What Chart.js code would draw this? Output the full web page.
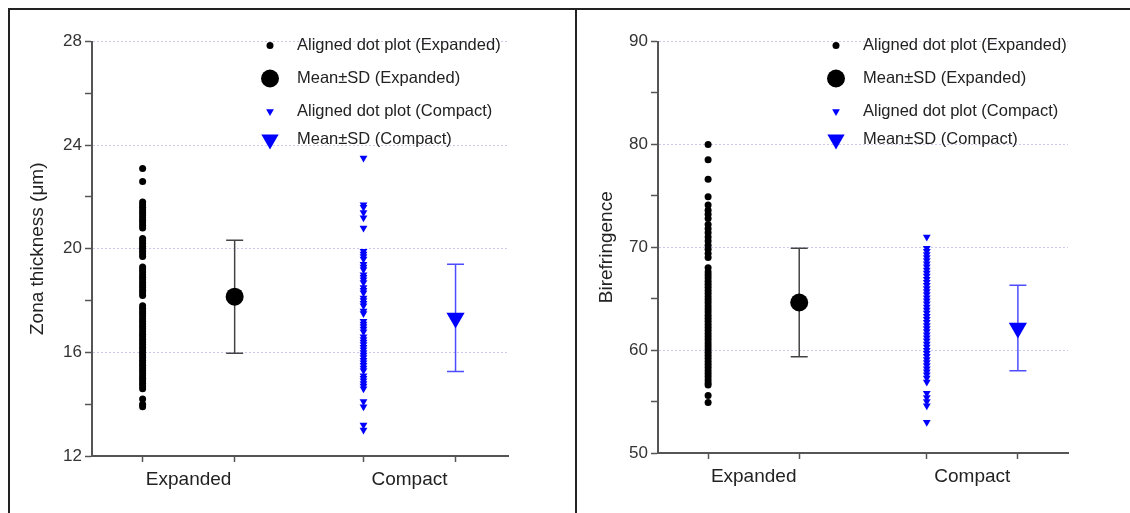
<!DOCTYPE html>
<html><head><meta charset="utf-8">
<script src="https://cdn.jsdelivr.net/npm/chart.js@4.4.1/dist/chart.umd.min.js"></script>
<style>
html,body{margin:0;padding:0;background:#fff;width:1130px;height:513px;overflow:hidden;position:relative;}
#p1{position:absolute;left:8px;top:8px;width:569px;height:530px;border-left:2px solid #222;border-top:2px solid #222;border-right:2px solid #222;box-sizing:border-box;}
#p2{position:absolute;left:575px;top:8px;width:600px;height:530px;border-left:2px solid #222;border-top:2px solid #222;box-sizing:border-box;}
#c1{position:absolute;left:0;top:0;}
#c2{position:absolute;left:577px;top:0;}
</style></head>
<body>
<div id="p1"></div><div id="p2"></div>
<canvas id="c1" width="575" height="513"></canvas>
<canvas id="c2" width="553" height="513"></canvas>
<script>
// ---- data ----
const categories = ['Expanded', 'Compact'];
const zonaExpanded = [23.1, 22.6, 21.8, 21.7, 21.6, 21.5, 21.4, 21.3, 21.2, 21.1, 21.0, 20.9, 20.8, 20.4, 20.3, 20.2, 20.1, 20.0, 19.9, 19.8, 19.7, 19.3, 19.2, 19.1, 19.0, 18.9, 18.8, 18.7, 18.6, 18.5, 18.4, 18.3, 18.2, 17.8, 17.7, 17.6, 17.5, 17.4, 17.3, 17.2, 17.1, 17.0, 16.9, 16.8, 16.7, 16.6, 16.5, 16.4, 16.3, 16.2, 16.1, 16.0, 15.9, 15.8, 15.7, 15.6, 15.5, 15.4, 15.3, 15.2, 15.1, 15.0, 14.9, 14.8, 14.7, 14.6, 14.2, 14.0, 13.9];
const zonaCompact = [23.5, 21.7, 21.6, 21.4, 21.2, 20.8, 19.9, 19.8, 19.7, 19.6, 19.4, 19.3, 19.2, 19.0, 18.9, 18.8, 18.7, 18.5, 18.4, 18.3, 18.1, 18.0, 17.9, 17.8, 17.6, 17.5, 17.2, 17.1, 17.0, 16.9, 16.8, 16.6, 16.5, 16.4, 16.3, 16.2, 16.1, 16.0, 15.9, 15.8, 15.7, 15.6, 15.5, 15.4, 15.3, 15.1, 15.0, 14.9, 14.8, 14.7, 14.6, 14.1, 13.9, 13.2, 13.0];
const zonaMean = [18.15, 17.33];
const zonaSD = [2.18, 2.07];
const birefExpanded = [80.0, 78.5, 76.6, 74.9, 74.1, 73.6, 73.2, 72.8, 72.2, 71.8, 71.4, 71.0, 70.6, 70.2, 69.8, 69.4, 69.0, 68.0, 67.6, 67.3, 67.0, 66.7, 66.4, 66.1, 65.8, 65.5, 65.2, 64.9, 64.6, 64.3, 64.0, 63.7, 63.4, 63.1, 62.8, 62.5, 62.2, 61.9, 61.6, 61.3, 61.0, 60.7, 60.4, 60.1, 59.8, 59.5, 59.2, 58.9, 58.6, 58.3, 58.0, 57.7, 57.4, 57.1, 56.8, 56.6, 55.6, 54.9];
const birefCompact = [71.0, 69.9, 69.6, 69.3, 69.0, 68.7, 68.4, 68.1, 67.8, 67.5, 67.2, 66.9, 66.6, 66.3, 66.0, 65.7, 65.4, 65.1, 64.8, 64.5, 64.2, 63.9, 63.6, 63.3, 63.0, 62.7, 62.4, 62.1, 61.8, 61.5, 61.2, 60.9, 60.6, 60.3, 60.0, 59.7, 59.4, 59.1, 58.8, 58.5, 58.2, 57.9, 57.6, 57.3, 56.9, 55.8, 55.4, 55.0, 54.6, 53.0];
const birefMean = [64.63, 62.15];
const birefSD = [5.27, 4.15];
const legendLabels = ['Aligned dot plot (Expanded)', 'Mean\u00B1SD (Expanded)', 'Aligned dot plot (Compact)', 'Mean\u00B1SD (Compact)'];
const zonaTicks = [12, 16, 20, 24, 28];
const birefTicks = [50, 60, 70, 80, 90];

// ---- layout helpers ----
const FONT = 'Arial, "Liberation Sans", sans-serif';
Chart.defaults.font.family = FONT;
const DOT_X = [0.55, 2.95];
const MEAN_X = [1.55, 3.95];
const LABEL_X = DOT_X.map((d, i) => (d + MEAN_X[i]) / 2);
const BLACK = '#000000', BLUE = '#0000ff';

const legendPlugin = {
  id: 'ownLegend',
  afterDraw(chart, args, opts) {
    const ctx = chart.ctx;
    const x0 = chart.chartArea.left + 178;
    const rows = [45.5, 78.5, 111.5, 139.5];
    const items = [
      {style: 'circle', r: 3.5, c: BLACK},
      {style: 'circle', r: 9, c: BLACK},
      {style: 'tri', r: 4.5, c: BLUE},
      {style: 'tri', r: 10, c: BLUE}
    ];
    ctx.save();
    items.forEach((it, i) => {
      const y = rows[i];
      ctx.fillStyle = it.c;
      ctx.beginPath();
      if (it.style === 'circle') {
        ctx.arc(x0, y, it.r, 0, Math.PI * 2);
      } else {
        ctx.moveTo(x0, y + it.r);
        ctx.lineTo(x0 - 0.866 * it.r, y - 0.5 * it.r);
        ctx.lineTo(x0 + 0.866 * it.r, y - 0.5 * it.r);
        ctx.closePath();
      }
      ctx.fill();
      ctx.fillStyle = '#222';
      ctx.font = '16.5px ' + FONT;
      ctx.textBaseline = 'middle';
      ctx.textAlign = 'left';
      ctx.fillText(legendLabels[i], x0 + 27, y);
    });
    ctx.restore();
  }
};

function makeChart(id, expVals, cmpVals, means, sds, yMin, yMax, majors, title, opt) {
  const datasets = [
    {label: legendLabels[0], data: expVals.map(v => ({x: DOT_X[0], y: v})),
     pointStyle: 'circle', pointRadius: 3.5, pointBackgroundColor: BLACK, pointBorderWidth: 0},
    {label: legendLabels[1], data: [{x: MEAN_X[0], y: means[0]}],
     pointStyle: 'circle', pointRadius: 9, pointBackgroundColor: BLACK, pointBorderWidth: 0},
    {label: legendLabels[2], data: cmpVals.map(v => ({x: DOT_X[1], y: v})),
     pointStyle: 'triangle', rotation: 180, pointRadius: 4.5, pointBackgroundColor: BLUE, pointBorderWidth: 0},
    {label: legendLabels[3], data: [{x: MEAN_X[1], y: means[1]}],
     pointStyle: 'triangle', rotation: 180, pointRadius: 10.5, pointBackgroundColor: BLUE, pointBorderWidth: 0},
    {label: 'SD Expanded', data: [{x: MEAN_X[0], y: means[0] + sds[0]}, {x: MEAN_X[0], y: means[0] - sds[0]}],
     showLine: true, borderColor: '#444', borderWidth: 1.5, pointStyle: 'line', pointRadius: 8.5,
     pointBorderColor: '#444', pointBorderWidth: 1.5},
    {label: 'SD Compact', data: [{x: MEAN_X[1], y: means[1] + sds[1]}, {x: MEAN_X[1], y: means[1] - sds[1]}],
     showLine: true, borderColor: '#4d4dff', borderWidth: 1.5, pointStyle: 'line', pointRadius: 8.5,
     pointBorderColor: '#4d4dff', pointBorderWidth: 1.5}
  ];
  const minorStep = (majors[1] - majors[0]) / 2;
  const isMid = v => LABEL_X.some(l => Math.abs(l - v) < 1e-6);
  return new Chart(document.getElementById(id), {
    type: 'scatter',
    data: {datasets},
    options: {
      responsive: false, animation: false, events: [],
      layout: {padding: opt.padding},
      plugins: {legend: {display: false}, tooltip: {enabled: false}},
      scales: {
        x: {
          type: 'linear', min: 0, max: opt.xMax,
          afterBuildTicks: s => { s.ticks = DOT_X.concat(LABEL_X, MEAN_X).sort((a, b) => a - b).map(v => ({value: v})); },
          ticks: {autoSkip: false, maxRotation: 0, padding: 6, color: '#222', font: {size: 19},
            callback: v => { const i = LABEL_X.findIndex(l => Math.abs(l - v) < 1e-6); return i >= 0 ? categories[i] : ''; }},
          grid: {drawOnChartArea: false, tickLength: 6, tickWidth: 1.5,
            tickColor: c => (c.tick && isMid(c.tick.value)) ? 'rgba(0,0,0,0)' : '#555'},
          border: {color: '#555', width: 2},
          afterFit: s => { s.height = 40; }
        },
        y: {
          min: yMin, max: yMax,
          ticks: {stepSize: minorStep, color: '#333', font: {size: 17}, padding: 3,
            callback: v => majors.includes(v) ? String(v) : ''},
          grid: {lineWidth: 1, tickLength: 7, tickWidth: 1.5, tickColor: '#555',
            color: c => (c.tick && majors.includes(c.tick.value) && c.tick.value !== yMin) ? '#c9c9f3' : 'rgba(0,0,0,0)'},
          border: {color: '#555', width: 2, dash: [2, 2]},
          title: {display: true, text: title, color: '#222', font: {size: 19}, padding: {top: opt.titlePad, bottom: 0}},
          afterFit: s => { s.width = opt.yWidth; }
        }
      }
    },
    plugins: [legendPlugin]
  });
}

makeChart('c1', zonaExpanded, zonaCompact, zonaMean, zonaSD, 12, 28, zonaTicks, 'Zona thickness (\u03BCm)',
  {padding: {left: 0, top: 41.5, right: 67, bottom: 17}, xMax: 4.52, yWidth: 92, titlePad: 26.6});
makeChart('c2', birefExpanded, birefCompact, birefMean, birefSD, 50, 90, birefTicks, 'Birefringence',
  {padding: {left: 0, top: 41.5, right: 62, bottom: 20}, xMax: 4.5, yWidth: 81, titlePad: 18.6});
</script>
</body></html>
